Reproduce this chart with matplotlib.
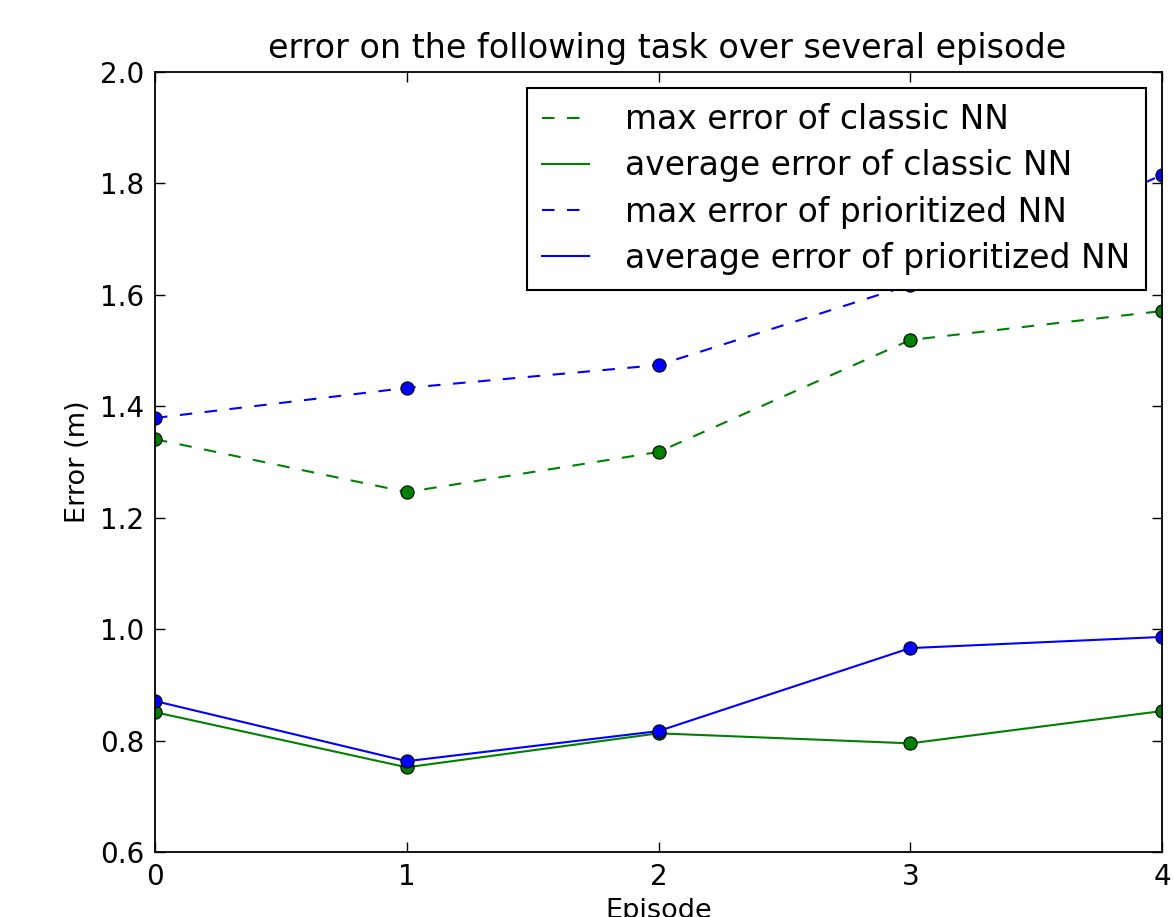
import matplotlib
matplotlib.use("Agg")
import matplotlib.pyplot as plt

episodes = [0, 1, 2, 3, 4]
max_classic = [1.341, 1.246, 1.318, 1.519, 1.571]
avg_classic = [0.851, 0.752, 0.813, 0.795, 0.853]
max_prio = [1.379, 1.433, 1.474, 1.618, 1.815]
avg_prio = [0.871, 0.763, 0.817, 0.966, 0.986]

plt.rcParams['font.family'] = ['DejaVu Sans']
fig = plt.figure(figsize=(11.73, 9.17), dpi=100)
ax = fig.add_axes([155/1173, 1 - 852/917, (1162-155)/1173, (852-72)/917])

lw = 1.5
ms = 9.5
ax.plot(episodes, max_classic, '--', color='green', lw=lw, dashes=(6, 6), label='max error of classic NN')
ax.plot(episodes, avg_classic, '-', color='green', lw=lw, label='average error of classic NN')
ax.plot(episodes, max_prio, '--', color='blue', lw=lw, dashes=(6, 6), label='max error of prioritized NN')
ax.plot(episodes, avg_prio, '-', color='blue', lw=lw, label='average error of prioritized NN')
for ys, c in [(max_classic, 'green'), (avg_classic, 'green'), (max_prio, 'blue'), (avg_prio, 'blue')]:
    ax.plot(episodes, ys, 'o', color=c, markersize=ms, markeredgecolor='black', markeredgewidth=0.8)

ax.set_xlim(0, 4)
ax.set_ylim(0.6, 2.0)
ax.set_xticks([0, 1, 2, 3, 4])
ax.set_yticks([0.6, 0.8, 1.0, 1.2, 1.4, 1.6, 1.8, 2.0])
ax.tick_params(direction='in', top=True, right=True, length=7, width=1, labelsize=20, pad=8)
for s in ax.spines.values():
    s.set_linewidth(1.3)

ax.set_title('error on the following task over several episode', fontsize=24, pad=10, x=0.509)
ax.set_xlabel('Episode', fontsize=19.5, labelpad=5)
ax.set_ylabel('Error (m)', fontsize=19.5, labelpad=6)

leg = ax.legend(loc='upper right', fontsize=23.7, frameon=True, fancybox=False, framealpha=1,
                handlelength=1.45, handletextpad=1.1, borderpad=0.45, labelspacing=0.4,
                borderaxespad=0.5)
leg.get_frame().set_edgecolor('black')
leg.get_frame().set_linewidth(1.5)

fig.savefig('out.png', dpi=100, facecolor='white')
